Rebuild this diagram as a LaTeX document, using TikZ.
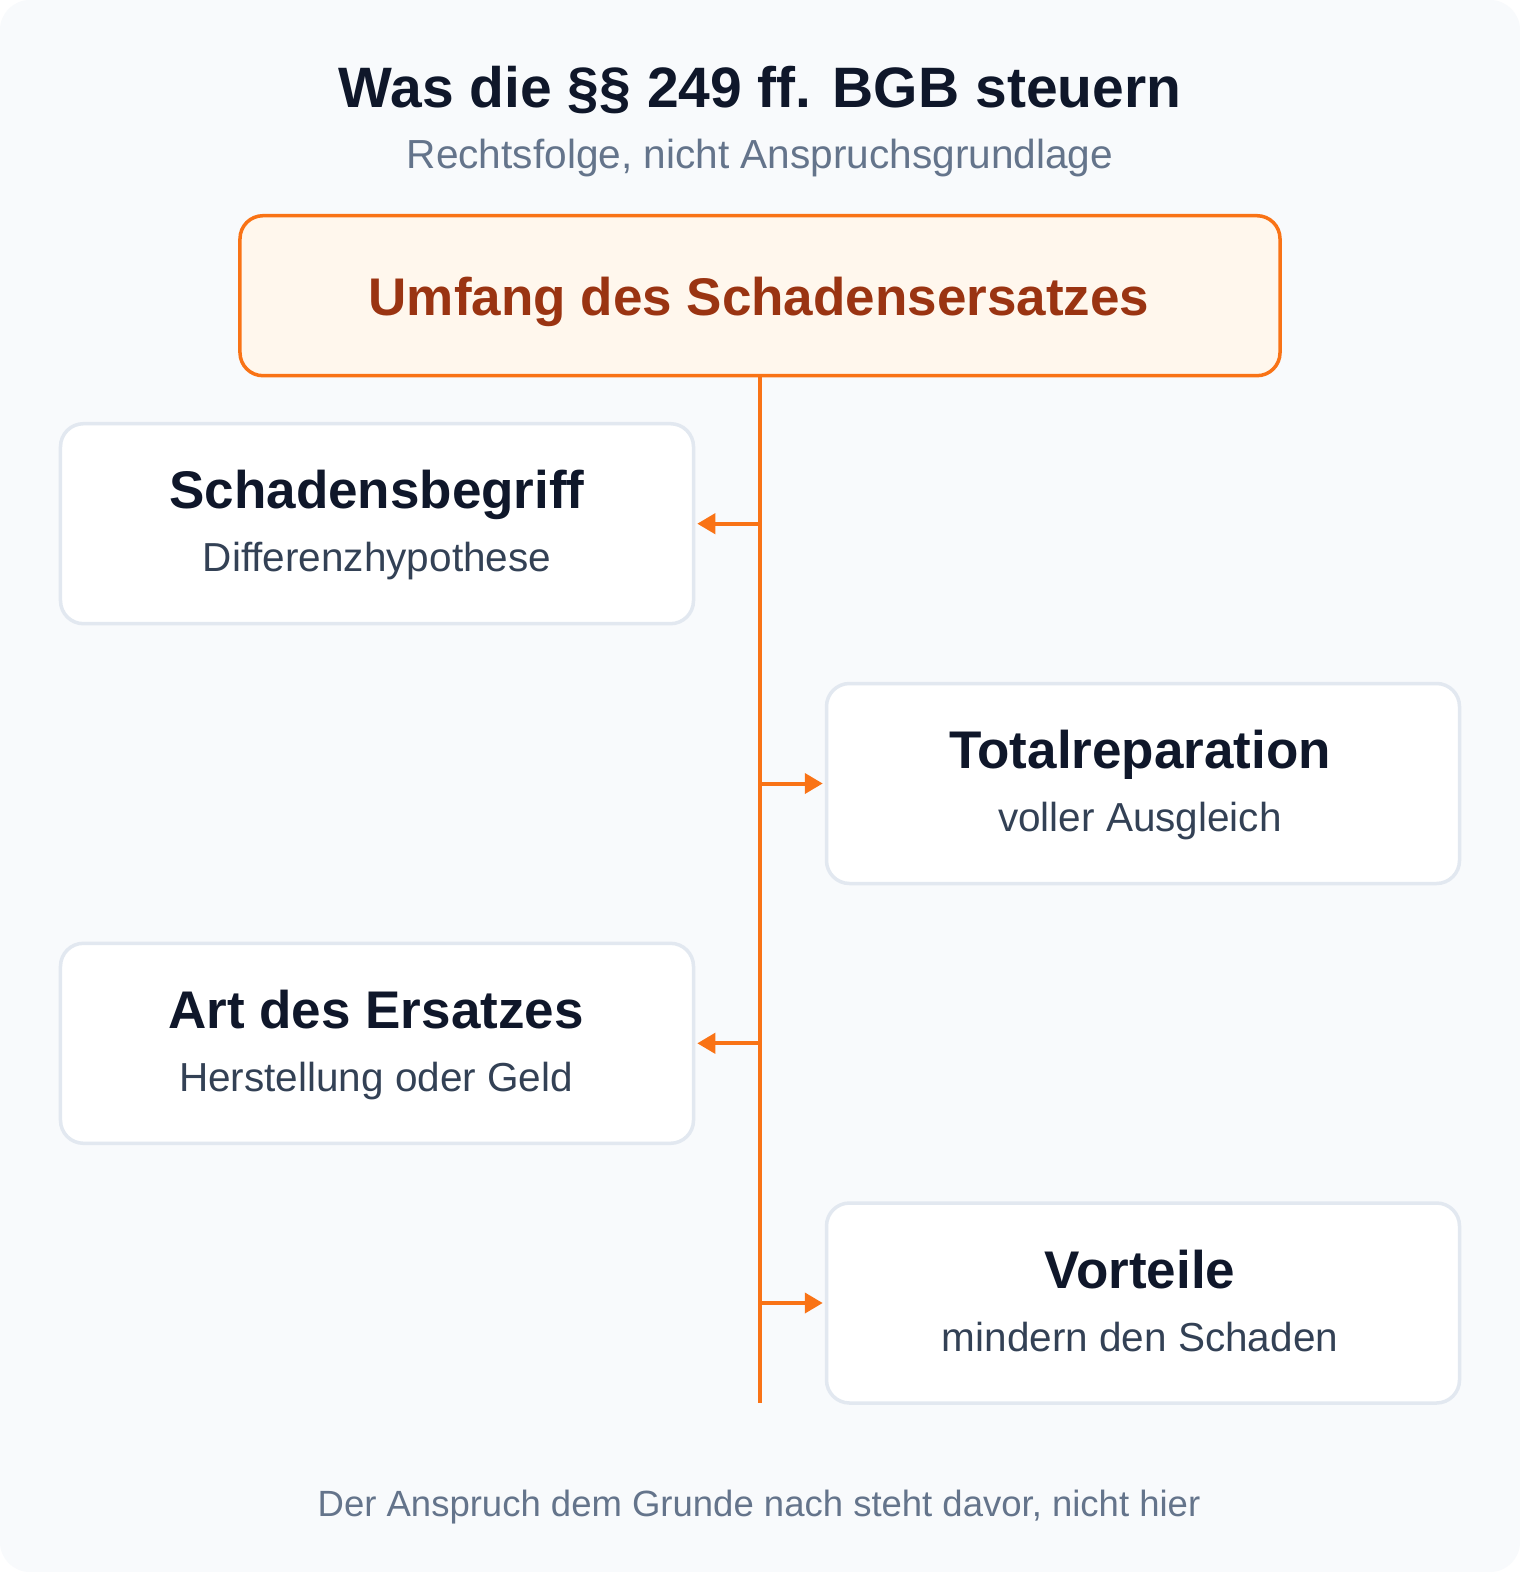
\documentclass[tikz,border=0pt]{standalone}
\usepackage{fontspec}
\setmainfont{Liberation Sans}
\usetikzlibrary{arrows.meta}
\definecolor{bgc}{HTML}{F8FAFC}
\definecolor{ink}{HTML}{0F172A}
\definecolor{muted}{HTML}{64748B}
\definecolor{subink}{HTML}{334155}
\definecolor{accent}{HTML}{F97316}
\definecolor{accentfill}{HTML}{FFF7ED}
\definecolor{accentdark}{HTML}{9A3412}
\definecolor{cardline}{HTML}{E2E8F0}
\tikzset{
  card/.style={draw=cardline, line width=3.5bp, fill=white, rounded corners=23bp,
    minimum width=633bp, minimum height=200bp, inner sep=0pt},
  topcard/.style={draw=accent, line width=3.5bp, fill=accentfill, rounded corners=23bp,
    minimum width=1040bp, minimum height=160bp, inner sep=0pt},
  cardtitle/.style={anchor=base, inner sep=0pt, text=ink, font=\fontsize{53bp}{56bp}\selectfont\bfseries},
  cardsub/.style={anchor=base, inner sep=0pt, text=subink, font=\fontsize{40.5bp}{44bp}\selectfont},
  spine/.style={draw=accent, line width=4.5bp},
  branch/.style={draw=accent, line width=4bp, -{Triangle[length=18bp,width=20bp]}},
}
\begin{document}
\begin{tikzpicture}[x=1bp,y=-1bp]
\useasboundingbox (0,0) rectangle (1520,1572);
\fill[white] (0,0) rectangle (1520,1572);
\fill[bgc, rounded corners=30bp] (0,0) rectangle (1520,1572);

\node[anchor=base, inner sep=0pt, text=ink, font=\fontsize{57bp}{60bp}\selectfont\bfseries] (title) at (760,108) {Was die §§ 249 ff. BGB steuern};
\node[anchor=base, inner sep=0pt, text=muted, font=\fontsize{40.6bp}{44bp}\selectfont] (subtitle) at (760,168) {Rechtsfolge, nicht Anspruchsgrundlage};

\node[topcard] (top) at (760,295.7) {};
\node[anchor=base, inner sep=0pt, text=accentdark, font=\fontsize{53bp}{56bp}\selectfont\bfseries] (toptext) at (759,315) {Umfang des Schadensersatzes};

\node[card] (b1) at (377,523.7) {};
\node[cardtitle] (b1t) at (377,508.7) {Schadensbegriff};
\node[cardsub] (b1s) at (377,571.7) {Differenzhypothese};

\node[card] (b2) at (1143,783.5) {};
\node[cardtitle] (b2t) at (1140,768.5) {Totalreparation};
\node[cardsub] (b2s) at (1140,831.5) {voller Ausgleich};

\node[card] (b3) at (377,1043.3) {};
\node[cardtitle] (b3t) at (376,1028.3) {Art des Ersatzes};
\node[cardsub] (b3s) at (376,1091.3) {Herstellung oder Geld};

\node[card] (b4) at (1143,1303) {};
\node[cardtitle] (b4t) at (1140,1288) {Vorteile};
\node[cardsub] (b4s) at (1140,1351) {mindern den Schaden};

\coordinate (sTop) at (760,376);
\coordinate (sEnd) at (760,1403);
\coordinate (j1) at (760,523.7);
\coordinate (j2) at (760,783.5);
\coordinate (j3) at (760,1043.3);
\coordinate (j4) at (760,1303);
\draw[spine] (sTop) -- (sEnd);
\draw[branch] (j1) -- ([xshift=2bp]b1.east);
\draw[branch] (j2) -- ([xshift=-2bp]b2.west);
\draw[branch] (j3) -- ([xshift=2bp]b3.east);
\draw[branch] (j4) -- ([xshift=-2bp]b4.west);

\node[anchor=base, inner sep=0pt, text=muted, font=\fontsize{36.5bp}{40bp}\selectfont] (footer) at (759,1516) {Der Anspruch dem Grunde nach steht davor, nicht hier};
\end{tikzpicture}
\end{document}
